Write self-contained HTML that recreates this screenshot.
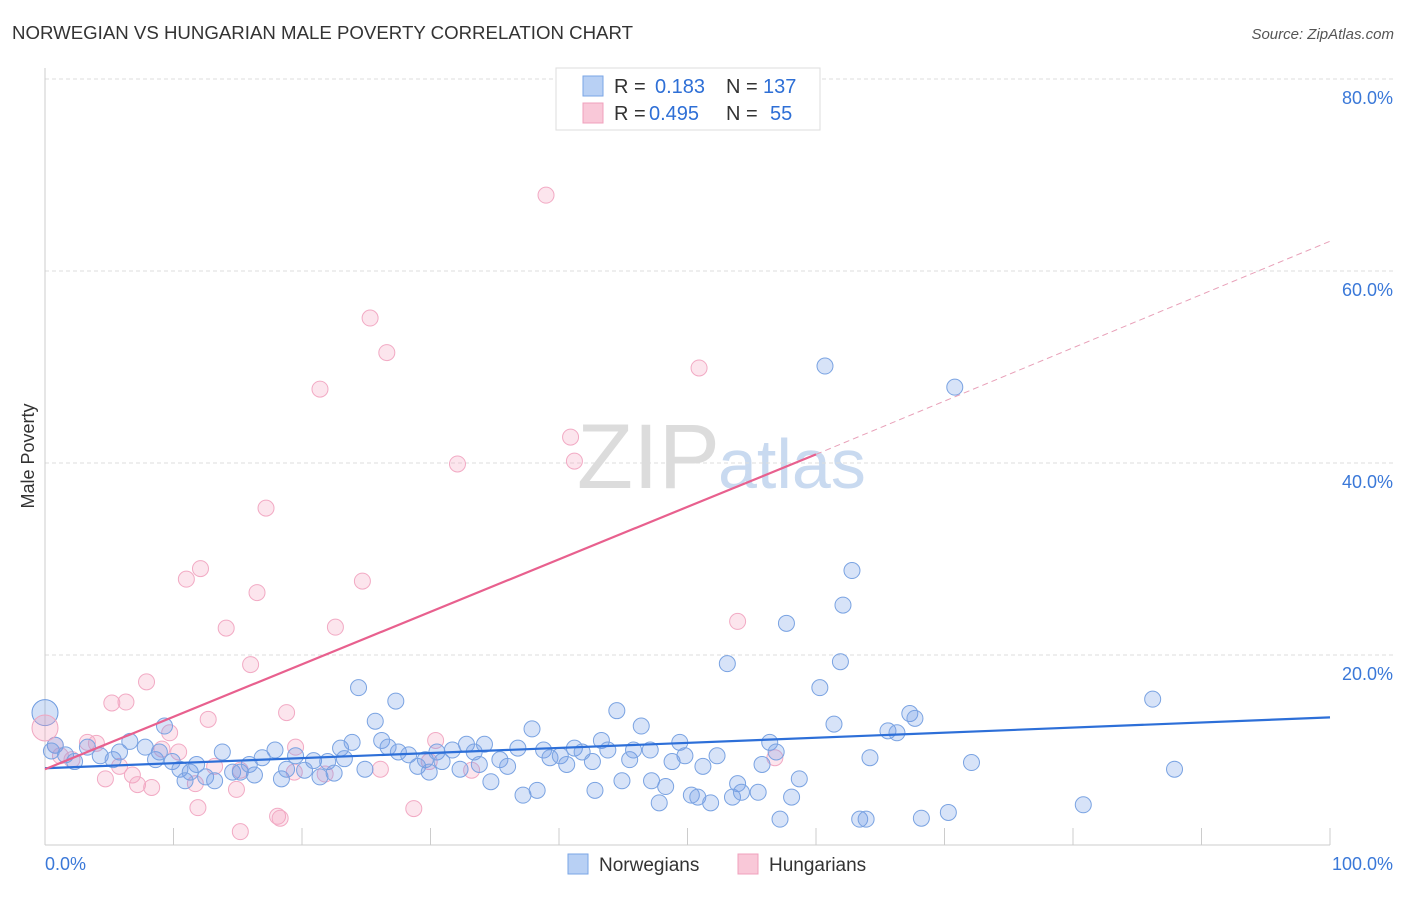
<!DOCTYPE html>
<html><head><meta charset="utf-8"><style>
body{margin:0;background:#fff;font-family:"Liberation Sans",sans-serif;}
svg text{font-family:"Liberation Sans",sans-serif;}
</style></head><body>
<svg id="chart" width="1406" height="892" xmlns="http://www.w3.org/2000/svg">
<text x="12" y="39" font-size="18" fill="#333" textLength="621" lengthAdjust="spacingAndGlyphs">NORWEGIAN VS HUNGARIAN MALE POVERTY CORRELATION CHART</text>
<text x="1394" y="39" font-size="15" fill="#555" font-style="italic" text-anchor="end">Source: ZipAtlas.com</text>
<text x="720" y="488" font-size="92" fill="#dcdcdc" text-anchor="end" font-family="Liberation Serif">ZIP</text>
<text x="718" y="488" font-size="70" fill="#c9daf0">atlas</text>
<g id="grid"></g>
<g id="marks"></g>
<text x="34" y="456" font-size="18" fill="#333" transform="rotate(-90 34 456)" text-anchor="middle">Male Poverty</text>
<g>
<rect x="556" y="68" width="264" height="62" fill="#fff" stroke="#ddd"/>
<rect x="583" y="76" width="20" height="20" fill="#b8d0f4" stroke="#7aa6e6"/>
<rect x="583" y="103" width="20" height="20" fill="#f9c8d8" stroke="#f0a0bc"/>
<text x="614" y="93" font-size="20" fill="#333">R =</text>
<text x="655" y="93" font-size="20" fill="#2e6fd6">0.183</text>
<text x="726" y="93" font-size="20" fill="#333">N =</text>
<text x="763" y="93" font-size="20" fill="#2e6fd6">137</text>
<text x="614" y="120" font-size="20" fill="#333">R =</text>
<text x="649" y="120" font-size="20" fill="#2e6fd6">0.495</text>
<text x="726" y="120" font-size="20" fill="#333">N =</text>
<text x="770" y="120" font-size="20" fill="#2e6fd6">55</text>
</g>
<g>
<rect x="568" y="854" width="20" height="20" fill="#b8d0f4" stroke="#7aa6e6"/>
<text x="599" y="871" font-size="19" fill="#333">Norwegians</text>
<rect x="738" y="854" width="20" height="20" fill="#f9c8d8" stroke="#f0a0bc"/>
<text x="769" y="871" font-size="19" fill="#333">Hungarians</text>
</g>
</svg>
<script>
const yTicks=[20,40,60,80];
const xTickLabels=["0.0%","100.0%"];
const blueX=[60.7,70.8,62.8,62.1,57.7,53.1,61.9,60.3,24.4,27.3,86.2,44.5,67.3,67.7,25.7,37.9,46.4,61.4,9.3,65.6,66.3,0.8,6.6,7.8,3.3,1.6,2.3,4.3,5.3,5.8,8.6,8.9,9.9,10.5,11.3,11.8,10.9,12.5,13.2,13.8,14.6,15.2,15.9,16.3,16.9,17.9,18.4,18.8,19.5,20.2,20.9,21.4,22.0,22.5,23.0,23.3,23.9,24.9,26.2,26.7,27.5,28.3,29.0,29.6,29.9,30.5,30.9,31.7,32.3,32.8,33.4,34.2,33.8,34.7,35.4,36.0,36.8,37.2,38.3,38.8,39.3,40.1,40.6,41.2,41.8,42.6,42.8,43.3,43.8,44.9,45.5,45.8,47.1,47.2,47.8,48.3,48.8,49.4,49.8,50.3,50.8,51.2,51.8,52.3,53.5,53.9,54.2,55.5,55.8,56.4,56.9,58.1,58.7,57.2,63.4,63.9,64.2,68.2,70.3,72.1,80.8,87.9,0.5];
const blueY=[50.1,47.9,28.8,25.2,23.3,19.1,19.3,16.6,16.6,15.2,15.4,14.2,13.9,13.4,13.1,12.3,12.6,12.8,12.6,12.1,11.9,10.6,11.0,10.4,10.4,9.6,8.9,9.5,9.1,9.9,9.1,9.9,8.9,8.1,7.8,8.6,6.9,7.3,6.9,9.9,7.8,7.8,8.6,7.5,9.3,10.1,7.1,8.1,9.5,8.0,9.0,7.3,8.9,7.7,10.3,9.2,10.9,8.1,11.1,10.4,9.9,9.6,8.4,9.1,7.8,9.9,8.9,10.1,8.1,10.7,9.9,10.7,8.6,6.8,9.1,8.4,10.3,5.4,5.9,10.1,9.3,9.5,8.6,10.3,9.9,8.9,5.9,11.1,10.1,6.9,9.1,10.1,10.1,6.9,4.6,6.3,8.9,10.9,9.5,5.4,5.2,8.4,4.6,9.5,5.2,6.6,5.7,5.7,8.6,10.9,9.9,5.2,7.1,2.9,2.9,2.9,9.3,3.0,3.6,8.8,4.4,8.1,10.0];
const pinkX=[38.99,25.3,26.6,21.4,50.9,40.9,41.2,32.1,17.2,12.1,11.0,24.7,16.5,14.1,22.6,53.9,16.0,7.9,5.2,6.3,18.8,12.7,9.7,3.3,4.0,0.8,19.5,30.4,9.1,10.4,1.2,5.8,13.2,15.2,26.1,33.2,4.7,6.8,11.7,7.2,8.3,14.9,21.8,11.9,28.7,18.1,18.3,15.2,56.8,29.9,2.1,19.4];
const pinkY=[67.9,55.1,51.5,47.7,49.9,42.7,40.2,39.9,35.3,29.0,27.9,27.7,26.5,22.8,22.9,23.5,19.0,17.2,15.0,15.1,14.0,13.3,11.9,10.9,10.8,10.6,10.4,11.1,10.2,9.9,9.5,8.4,8.4,8.0,8.1,8.0,7.1,7.5,6.6,6.5,6.2,6.0,7.6,4.1,4.0,3.2,3.0,1.6,9.3,8.9,9.1,7.8];
const blueTrend=[8.2,13.5];
const pinkTrend=[8.1,40.9,63.1];
const pinkSolidEnd=60;
const X0=45,X1=1330,Y0=847,YP=9.6;
function sx(v){return X0+(X1-X0)*v/100;}
function sy(v){return Y0-v*YP;}
const NS="http://www.w3.org/2000/svg";
const grid=document.getElementById('grid'),marks=document.getElementById('marks');
function mk(p,tag,attrs){const e=document.createElementNS(NS,tag);for(const k in attrs)e.setAttribute(k,attrs[k]);p.appendChild(e);return e;}
yTicks.forEach(t=>{
 const l=mk(grid,'line',{x1:45,x2:1395,y1:sy(t),y2:sy(t),stroke:'#ddd','stroke-dasharray':'4,3'});
 
 
 const tx=mk(grid,'text',{x:1393,y:sy(t)+25,'font-size':18,fill:'#3a78d8','text-anchor':'end'});
 tx.textContent=t.toFixed(1)+'%';
 
 
});
const ax=mk(grid,'line',{x1:45,x2:45,y1:68,y2:845,stroke:'#ccc'});


const bx=mk(grid,'line',{x1:45,x2:1330,y1:845,y2:845,stroke:'#ccc'});


for(let i=1;i<=10;i++){const t=mk(grid,'line',{x1:sx(i*10),x2:sx(i*10),y1:828,y2:845,stroke:'#ccc'});
 
 }
[[0,'start',45],[1,'end',1393]].forEach(([i,a,x])=>{const t=mk(grid,'text',{x:x,y:870,'font-size':18,fill:'#3a78d8','text-anchor':a});t.textContent=xTickLabels[i];
 
 });
function dots(X,Y,fill,stroke,name){X.forEach((x,i)=>{const c=mk(marks,'circle',{cx:sx(x),cy:sy(Y[i]),r:8,fill:fill,stroke:stroke,'stroke-width':1});
 
 });}
dots(pinkX,pinkY,'rgba(244,160,190,0.28)','#f2aac4','hungarian-point');
dots(blueX,blueY,'rgba(110,155,230,0.28)','#7aa3e2','norwegian-point');
const bb=mk(marks,'circle',{cx:sx(0),cy:sy(14),r:13,fill:'rgba(110,155,230,0.3)',stroke:'#6e9be0'});


const pb=mk(marks,'circle',{cx:sx(0),cy:sy(12.4),r:13,fill:'rgba(244,160,190,0.3)',stroke:'#f0a6c0'});


const bl=mk(marks,'line',{x1:sx(0),y1:sy(blueTrend[0]),x2:sx(100),y2:sy(blueTrend[1]),stroke:'#2d6fd8','stroke-width':2.2});


const pl=mk(marks,'line',{x1:sx(0),y1:sy(pinkTrend[0]),x2:sx(pinkSolidEnd),y2:sy(pinkTrend[1]),stroke:'#e8608e','stroke-width':2.2});


const pd=mk(marks,'line',{x1:sx(pinkSolidEnd),y1:sy(pinkTrend[1]),x2:sx(100),y2:sy(pinkTrend[2]),stroke:'#e8a0b8','stroke-width':1,'stroke-dasharray':'6,4'});


</script>
</body></html>
